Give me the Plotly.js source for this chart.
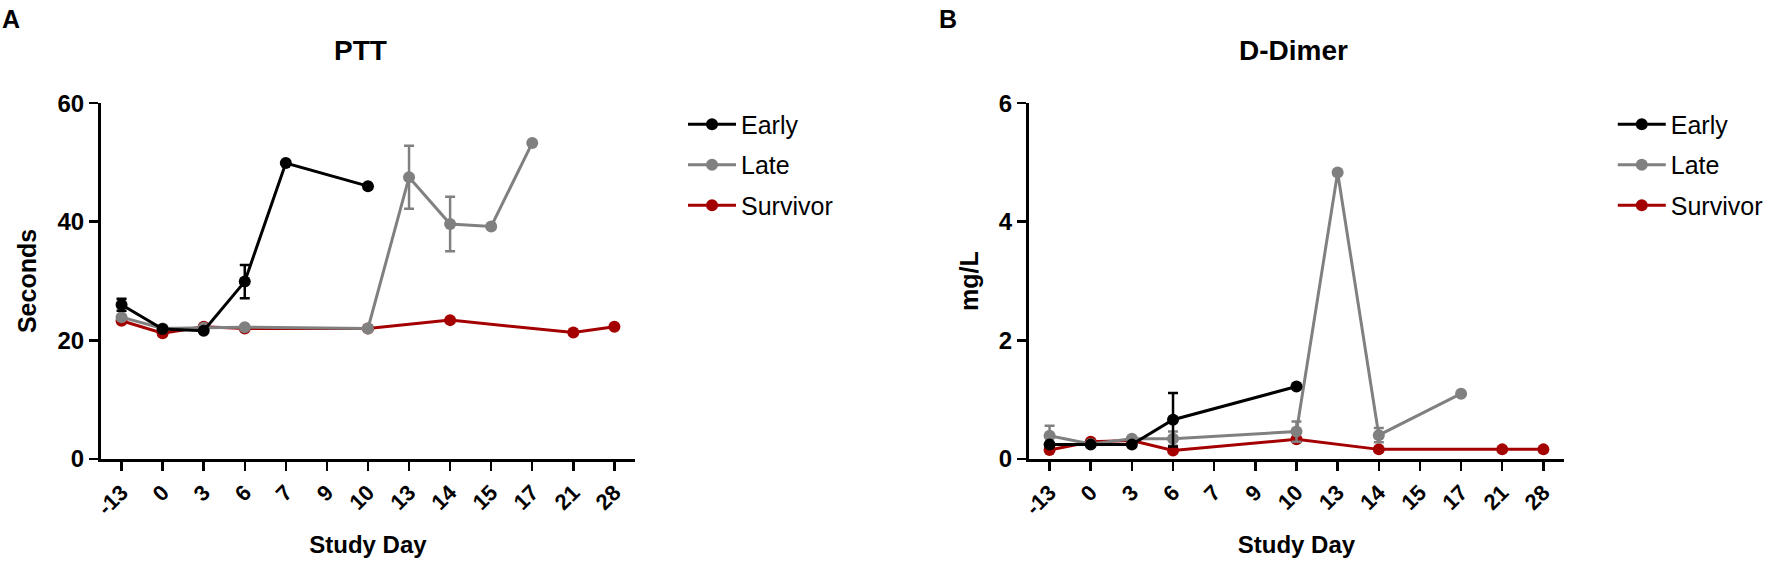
<!DOCTYPE html>
<html>
<head>
<meta charset="utf-8">
<script src="https://cdn.plot.ly/plotly-3.0.1.min.js"></script>
<style>
  html, body { margin: 0; padding: 0; background: #fff; }
  #chart { width: 1788px; height: 570px; }
</style>
</head>
<body>
<div id="chart"></div>
<script>
// Study days shown on the x axis (categorical, evenly spaced)
const dayLabels = ['-13', '0', '3', '6', '7', '9', '10', '13', '14', '15', '17', '21', '28'];

// PTT (seconds)
const pttEarlyDays = ['-13', '0', '3', '6', '7', '10'];
const pttEarly = [26.0, 21.9, 21.6, 29.9, 49.9, 46.0];
const pttEarlyErr = [1.0, null, null, 2.8, null, null];

const pttLateDays = ['-13', '0', '3', '6', '10', '13', '14', '15', '17'];
const pttLate = [23.9, 22.0, 22.1, 22.2, 22.0, 47.5, 39.6, 39.2, 53.3];
const pttLateErr = [null, null, null, null, null, 5.3, 4.6, null, null];

const pttSurvDays = ['-13', '0', '3', '6', '10', '14', '21', '28'];
const pttSurv = [23.3, 21.2, 22.3, 22.0, 22.0, 23.4, 21.3, 22.3];

// D-Dimer (mg/L)
const ddEarlyDays = ['-13', '0', '3', '6', '10'];
const ddEarly = [0.24, 0.24, 0.24, 0.66, 1.22];
const ddEarlyErr = [null, null, null, 0.45, null];

const ddLateDays = ['-13', '0', '3', '6', '10', '13', '14', '17'];
const ddLate = [0.39, 0.25, 0.34, 0.34, 0.46, 4.83, 0.40, 1.10];
const ddLateErr = [0.17, null, null, 0.12, 0.17, null, 0.12, null];

const ddSurvDays = ['-13', '0', '3', '6', '10', '14', '21', '28'];
const ddSurv = [0.15, 0.29, 0.31, 0.14, 0.33, 0.16, 0.16, 0.16];

const FONT = 'Liberation Sans, Arial, Helvetica, sans-serif';
const COLORS = { early: '#000000', late: '#808080', survivor: '#a50000' };

// map day labels onto evenly spaced positions
const toIdx = days => days.map(d => dayLabels.indexOf(d));

function series(name, days, values, err, color, xa, ya, legend, rank) {
    const t = {
        type: 'scatter',
        mode: 'lines+markers',
        name: name,
        x: toIdx(days),
        y: values,
        xaxis: xa,
        yaxis: ya,
        legend: legend,
        legendgroup: legend + name,
        legendrank: rank,
        line: { color: color, width: 3 },
        marker: { color: color, size: 12 }
    };
    if (err) {
        t.error_y = { type: 'data', array: err, visible: true, color: color, thickness: 2.5, width: 5 };
    }
    return t;
}

// survivor first so it sits underneath, early on top
const traces = [
    series('Survivor', pttSurvDays, pttSurv, null, COLORS.survivor, 'x', 'y', 'legend', 3),
    series('Late', pttLateDays, pttLate, pttLateErr, COLORS.late, 'x', 'y', 'legend', 2),
    series('Early', pttEarlyDays, pttEarly, pttEarlyErr, COLORS.early, 'x', 'y', 'legend', 1),
    series('Survivor', ddSurvDays, ddSurv, null, COLORS.survivor, 'x2', 'y2', 'legend2', 3),
    series('Late', ddLateDays, ddLate, ddLateErr, COLORS.late, 'x2', 'y2', 'legend2', 2),
    series('Early', ddEarlyDays, ddEarly, ddEarlyErr, COLORS.early, 'x2', 'y2', 'legend2', 1)
];

function xAxis(domain, anchor) {
    return {
        domain: domain,
        anchor: anchor,
        range: [-0.5, dayLabels.length - 0.5],
        tickmode: 'array',
        tickvals: dayLabels.map((d, i) => i),
        ticktext: dayLabels,
        tickangle: -45,
        ticks: 'outside',
        ticklen: 9,
        tickwidth: 2.5,
        tickcolor: '#000',
        tickfont: { family: FONT, size: 22, color: '#000', weight: 'bold' },
        showline: true,
        linewidth: 3,
        linecolor: '#000',
        showgrid: false,
        zeroline: false,
        fixedrange: true,
        title: { text: 'Study Day', font: { family: FONT, size: 24, color: '#000', weight: 'bold' }, standoff: 18 }
    };
}

function yAxis(domain, anchor, range, dtick, label) {
    return {
        domain: domain,
        anchor: anchor,
        range: range,
        dtick: dtick,
        ticks: 'outside',
        ticklen: 9,
        tickwidth: 2.5,
        tickcolor: '#000',
        tickfont: { family: FONT, size: 24, color: '#000', weight: 'bold' },
        showline: true,
        linewidth: 3,
        linecolor: '#000',
        showgrid: false,
        zeroline: false,
        fixedrange: true,
        title: { text: label, font: { family: FONT, size: 25, color: '#000', weight: 'bold' }, standoff: 14 }
    };
}

const yDomain = [0.195, 0.819];

const legendStyle = (x) => ({
    x: x,
    y: 0.822,
    xanchor: 'left',
    yanchor: 'top',
    traceorder: 'grouped',
    tracegroupgap: 5,
    itemwidth: 48,
    font: { family: FONT, size: 25, color: '#000' },
    bgcolor: 'rgba(0,0,0,0)'
});

const headFont = { family: FONT, size: 28, color: '#000', weight: 'bold' };
const panelFont = { family: FONT, size: 25, color: '#000', weight: 'bold' };

const layout = {
    width: 1788,
    height: 570,
    margin: { l: 0, r: 0, t: 0, b: 0 },
    paper_bgcolor: '#fff',
    plot_bgcolor: '#fff',
    showlegend: true,
    xaxis: xAxis([0.0565, 0.3551], 'y'),
    yaxis: yAxis(yDomain, 'x', [0, 60], 20, 'Seconds'),
    xaxis2: xAxis([0.5755, 0.8747], 'y2'),
    yaxis2: yAxis(yDomain, 'x2', [0, 6], 2, 'mg/L'),
    legend: legendStyle(0.382),
    legend2: legendStyle(0.902),
    annotations: [
        { text: 'A', xref: 'paper', yref: 'paper', x: 0.0, y: 0.995, xanchor: 'left', yanchor: 'top', showarrow: false, font: panelFont },
        { text: 'B', xref: 'paper', yref: 'paper', x: 0.524, y: 0.995, xanchor: 'left', yanchor: 'top', showarrow: false, font: panelFont },
        { text: 'PTT', xref: 'paper', yref: 'paper', x: 0.2015, y: 0.912, xanchor: 'center', yanchor: 'middle', showarrow: false, font: headFont },
        { text: 'D-Dimer', xref: 'paper', yref: 'paper', x: 0.7235, y: 0.912, xanchor: 'center', yanchor: 'middle', showarrow: false, font: headFont }
    ]
};

const config = { displayModeBar: false, staticPlot: true };

Plotly.newPlot('chart', traces, layout, config);
</script>
</body>
</html>
